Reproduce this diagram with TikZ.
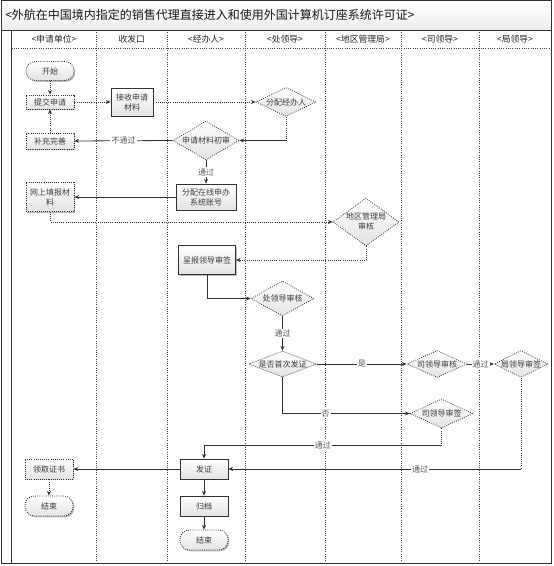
\documentclass[tikz,border=0pt]{standalone}
\usepackage{fontspec}
\newfontfamily\cjk{Noto Sans CJK SC}
\usetikzlibrary{shapes.geometric,shadows,arrows.meta}
\definecolor{ln}{HTML}{333333}
\definecolor{tx}{HTML}{3C3C3C}
\begin{document}
\begin{tikzpicture}[x=0.75pt,y=-0.75pt,
  nfont/.style={font=\cjk\fontsize{6}{7.5}\selectfont},
  box/.style={draw=ln, line width=0.6pt, top color=white, bottom color=gray!22,
    minimum width=36pt, minimum height=15pt, inner sep=0pt, nfont, text=tx, align=center,
    drop shadow={shadow xshift=1pt, shadow yshift=-1pt, fill=gray!55, opacity=1}},
  dbox/.style={box, densely dotted},
  term/.style={dbox, rounded corners=7pt},
  dia/.style={diamond, draw=ln, densely dotted, line width=0.6pt, top color=white,
    bottom color=gray!22, inner sep=0pt, nfont, text=tx},
  con/.style={draw=ln, line width=0.6pt},
  dcon/.style={con, densely dotted},
  arr/.style={-{Stealth[length=3.5pt,width=3pt]}},
  lab/.style={fill=white, inner sep=0.8pt, font=\cjk\fontsize{6}{7}\selectfont, text=tx!85},
  lane/.style={draw=ln!90, line width=0.7pt, densely dotted},
  hdr/.style={font=\cjk\fontsize{6.6}{8}\selectfont, text=black!85}
]
\useasboundingbox (0,0) rectangle (553,566);
% frame
\shade[top color=white, bottom color=gray!14] (1,0) rectangle (551,30);
\draw[ln, line width=0.6pt] (1,0) rectangle (551,563);
\draw[ln, line width=0.6pt] (1,30) -- (551,30);
\draw[ln, line width=0.6pt] (11.5,30) -- (11.5,563);
\draw[lane] (11.5,48) -- (551,48);
\foreach \xx in {96.5,167,245,325,401,479}
  \draw[lane] (\xx,30) -- (\xx,563);
\node[anchor=west, font=\cjk\fontsize{9}{11}\selectfont, text=black!90, inner sep=0pt] (title) at (5,15)
  {<外航在中国境内指定的销售代理直接进入和使用外国计算机订座系统许可证>};
\node[hdr] (h1) at (54,39) {<申请单位>};
\node[hdr] (h2) at (131.75,39) {收发口};
\node[hdr] (h3) at (206,39) {<经办人>};
\node[hdr] (h4) at (285,39) {<处领导>};
\node[hdr] (h5) at (363,39) {<地区管理局>};
\node[hdr] (h6) at (440,39) {<司领导>};
\node[hdr] (h7) at (515,39) {<局领导>};
% nodes
\node[term, minimum height=14.25pt] (st) at (50,71) {开始};
\node[dbox, minimum height=10.5pt] (tj) at (50,102) {提交申请};
\node[box, minimum width=31.5pt, minimum height=21pt] (js) at (132,102) {接收申请\\材料};
\node[dia, minimum width=45pt, minimum height=21.75pt] (fp) at (286,102) {\makebox[0pt]{分配经办人}};
\node[dia, minimum width=49.5pt, minimum height=29.25pt] (sc) at (206,140.5) {\makebox[0pt]{申请材料初审}};
\node[dbox, minimum height=12pt] (bc) at (50,141) {补充完善};
\node[box, minimum width=45pt, minimum height=19.5pt] (fz) at (206,197) {分配在线申办\\系统账号};
\node[dbox, minimum height=21.75pt] (ws) at (50,197) {网上填报材\\料};
\node[dia, minimum width=49.5pt, minimum height=36pt] (dq) at (366,222)
  {\makebox[0pt]{\begin{tabular}{@{}c@{}}地区管理局\\审核\end{tabular}}};
\node[box, minimum width=42.75pt, minimum height=21.75pt] (cb) at (207,260) {呈报领导审签};
\node[dia, minimum width=47.25pt, minimum height=26.25pt] (cl) at (282.5,298.5) {\makebox[0pt]{处领导审核}};
\node[dia, minimum width=51pt, minimum height=19.5pt] (sf) at (282.5,364) {\makebox[0pt]{是否首次发证}};
\node[dia, minimum width=45pt, minimum height=20.25pt] (sh) at (437,364) {\makebox[0pt]{司领导审核}};
\node[dia, minimum width=40pt, minimum height=20.25pt] (jq) at (521,364) {\makebox[0pt]{局领导审签}};
\node[dia, minimum width=47.25pt, minimum height=21.75pt] (sq) at (441.5,413.5) {\makebox[0pt]{司领导审签}};
\node[box] (fzh) at (204,469) {发证};
\node[dbox] (lq) at (49,469) {领取证书};
\node[term] (e1) at (49,506) {结束};
\node[box] (gd) at (204,506) {归档};
\node[term] (e2) at (204,540) {结束};
% connectors
\draw[dcon,arr] (st) -- (tj);
\draw[dcon,arr] (tj) -- (js);
\draw[dcon,arr] (js) -- (fp);
\draw[dcon] (fp.south) -- (fp.south |- sc.east) coordinate (k4);
\draw[con,arr] (k4) -- (sc.east);
\draw[con,arr] (sc.west) -- node[lab]{不通过} (bc.east);
\draw[dcon,arr] (bc) -- (tj);
\draw[con,arr] (sc.south) -- node[lab]{通过} (fz.north);
\draw[con,arr] (fz.west) -- (ws.east);
\draw[dcon,arr] (ws.south) |- (dq.west);
\draw[dcon,arr] (dq.south) |- (cb.east);
\draw[con,arr] (cb.south) |- (cl.west);
\draw[con,arr] (cl.south) -- node[lab]{通过} (sf.north);
\draw[con,arr] (sf.east) -- node[lab]{是} (sh.west);
\draw[con,arr] (sh.east) -- node[lab]{通过} (jq.west);
\draw[con,arr] (sf.south) |- node[lab,pos=0.67]{否} (sq.west);
\coordinate (k16) at (441.5,445);
\draw[dcon] (sq.south) -- (k16);
\draw[con,arr] (k16) -| node[lab,pos=0.25]{通过} (fzh.north);
\coordinate (k17) at (521,469);
\draw[dcon] (jq.south) -- (k17);
\draw[con,arr] (k17) -- node[lab,pos=0.345]{通过} (fzh.east);
\draw[con,arr] (fzh) -- (lq);
\draw[dcon,arr] (lq) -- (e1);
\draw[con,arr] (fzh) -- (gd);
\draw[con,arr] (gd) -- (e2);
\end{tikzpicture}
\end{document}
